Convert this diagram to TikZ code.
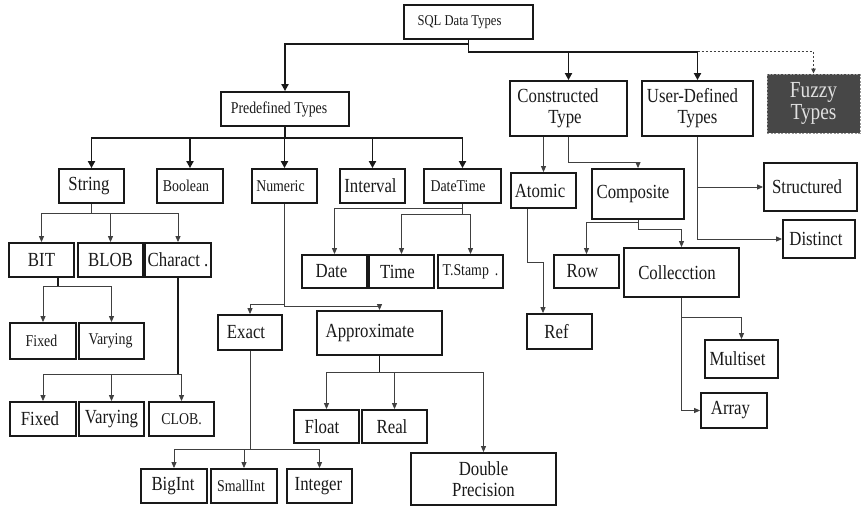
\documentclass[tikz,border=0pt]{standalone}
\usepackage{fontspec}
\setmainfont{Liberation Serif}[FakeStretch=0.84]
\usetikzlibrary{arrows.meta}
% trailing kern that nudges a label to the left inside its box
\newcommand\textpad[1]{\kern#1pt\relax}
\begin{document}
\begin{tikzpicture}[x=1pt,y=-1pt,
  box/.style={draw=black!90, line width=1.8pt, inner sep=0pt, align=center, text=black!90},
  wh/.style 2 args={minimum width=#1pt, minimum height=#2pt},
  bigtxt/.style={font=\fontsize{20}{21}\selectfont},
  smalltxt/.style={font=\fontsize{16.5}{18}\selectfont},
  sqltxt/.style={font=\fontsize{15}{16}\selectfont},
  fuzzybox/.style={fill=black!72, draw=black!40, dash pattern=on 2pt off 1.5pt,
    line width=1pt, inner sep=0pt, align=center, text=white!88!black,
    font=\fontsize{23}{22}\selectfont},
  trunk/.style={line width=1.8pt, draw=black!90, -{Triangle[length=7pt,width=7pt]}},
  stub/.style={line width=1.8pt, draw=black!90},
  twig/.style={line width=0.9pt, draw=black!75, -{Triangle[length=6pt,width=5pt]}},
  dashedlink/.style={line width=0.9pt, draw=black!75, dash pattern=on 2.5pt off 1.5pt,
    -{Triangle[length=5pt,width=4.5pt]}},
]
\useasboundingbox (0,0) rectangle (861,506);

% --- top levels
\node[box,wh={129}{34},sqltxt] (sql) at (468.5,22) {SQL Data Types\textpad{18}};
\node[box,wh={128}{34},smalltxt] (pre) at (285,109) {Predefined Types\textpad{12}};
\node[box,wh={117}{55},bigtxt] (con) at (568.5,108.5) {Constructed\textpad{21}\\Type\textpad{7}};
\node[box,wh={111}{55},bigtxt] (usr) at (697.5,108.5) {User-Defined\textpad{10}\\Types};
\node[fuzzybox,wh={93}{59}] (fuz) at (813.5,103.5) {Fuzzy\\Types};

% --- predefined types
\node[box,wh={65}{34},bigtxt] (str) at (91.5,186) {String\textpad{5}};
\node[box,wh={66}{34},smalltxt] (boo) at (190,186) {Boolean\textpad{8}};
\node[box,wh={65}{34},smalltxt] (num) at (284.5,186) {Numeric\textpad{8}};
\node[box,wh={65}{34},bigtxt] (itv) at (372.5,186) {Interval\textpad{4}};
\node[box,wh={77}{34},smalltxt] (dtm) at (462.5,186) {DateTime\textpad{9}};

% --- constructed and user-defined types
\node[box,wh={65}{35},bigtxt] (ato) at (543.5,190.5) {Atomic\textpad{7}};
\node[box,wh={92}{50},bigtxt] (cmp) at (638,194) {Composite\textpad{10}};
\node[box,wh={93}{48},bigtxt] (stc) at (810.5,187) {Structured\textpad{7}};
\node[box,wh={72}{38},bigtxt] (dis) at (819,239) {Distinct\textpad{6}};

% --- string family
\node[box,wh={65}{34},bigtxt] (bit) at (41.5,260) {BIT};
\node[box,wh={65}{34},bigtxt] (blob) at (110.5,260) {BLOB};
\node[box,wh={66}{34},bigtxt] (chr) at (178,260) {Charact .};
\node[box,wh={66}{36},smalltxt] (fx1) at (43,341) {Fixed\textpad{3}};
\node[box,wh={65}{36},smalltxt] (vr1) at (111.5,341) {Varying\textpad{2}};
\node[box,wh={66}{34},bigtxt] (fx2) at (43,419) {Fixed\textpad{6}};
\node[box,wh={65}{34},bigtxt] (vr2) at (111.5,419) {Varying};
\node[box,wh={65}{34},smalltxt] (clob) at (181.5,419) {CLOB.};

% --- date and time
\node[box,wh={65}{33},bigtxt] (dat) at (334.5,271.5) {Date\textpad{6}};
\node[box,wh={65}{33},bigtxt] (tim) at (401.5,271.5) {Time\textpad{8}};
\node[box,wh={65}{33},smalltxt] (tst) at (470.5,271.5) {T.Stamp\hspace{6pt}.};

% --- composite parts
\node[box,wh={65}{33},bigtxt] (row) at (586.5,271.5) {Row\textpad{8}};
\node[box,wh={115}{49},bigtxt] (col) at (681.5,272.5) {Collecction\textpad{9}};
\node[box,wh={65}{35},bigtxt] (ref) at (559.5,331.5) {Ref\textpad{6}};
\node[box,wh={73}{38},bigtxt] (mul) at (741.5,359) {Multiset\textpad{8}};
\node[box,wh={66}{35},bigtxt] (arr) at (734,410.5) {Array\textpad{7}};

% --- numeric family
\node[box,wh={64}{35},bigtxt] (ext) at (250,332.5) {Exact\textpad{8}};
\node[box,wh={125}{44},bigtxt] (apx) at (379.5,333) {Approximate\textpad{19}};
\node[box,wh={65}{33},bigtxt] (flt) at (326.5,426.5) {Float\textpad{9}};
\node[box,wh={65}{33},bigtxt] (rea) at (394.5,426.5) {Real\textpad{5}};
\node[box,wh={145}{52},bigtxt] (dbl) at (483.5,479) {Double\\Precision};
\node[box,wh={66}{34},bigtxt] (big) at (174,486) {BigInt\textpad{2}};
\node[box,wh={66}{34},smalltxt] (sml) at (244,486) {SmallInt\textpad{6}};
\node[box,wh={65}{34},bigtxt] (int) at (319.5,486) {Integer\textpad{2}};

% --- connectors from the root
\path (sql.south) ++(0,12) coordinate (rbus);
\draw[trunk] (sql.south) -- ++(0,4) -| (pre.north);
\draw[trunk] (sql.south) -- (rbus) -| (con.north);
\draw[trunk] (sql.south) -- (rbus) -| (usr.north);
\draw[dashedlink] (rbus -| usr.north) -| (fuz.north);

% --- predefined types
\foreach \c in {str,boo,num,itv,dtm}
  \draw[trunk] (pre.south) -- ++(0,11) -| (\c.north);

% --- string family
\foreach \c in {bit,blob,chr}
  \draw[twig] (str.south) -- ++(0,10) -| (\c.north);
\draw[stub] ([xshift=16.5pt]bit.south) -- ++(0,9);
\foreach \c in {fx1,vr1}
  \draw[twig] ([xshift=16.5pt]bit.south) ++(0,9) -| (\c.north);
\draw[stub] (chr.south) -- ++(0,97);
\foreach \c in {fx2,vr2,clob}
  \draw[twig] (chr.south) ++(0,97) -| (\c.north);

% --- numeric family
\draw[twig] (num.south) -- ++(0,101) -| (ext.north);
\draw[twig] (num.south) -- ++(0,103) -| (apx.north);
\draw[stub] (apx.south) -- ++(0,17);
\foreach \c in {flt,rea,dbl}
  \draw[twig] (apx.south) ++(0,17) -| (\c.north);
\foreach \c in {big,sml,int}
  \draw[twig] (ext.south) -- ++(0,99) -| (\c.north);

% --- date and time
\draw[twig] (dtm.south) -- ++(0,5) -| (dat.north);
\draw[twig] (dtm.south) -- ++(0,11) -| (tim.north);
\draw[twig] (dtm.south) -- ++(0,11) -| (tst.north);

% --- constructed types
\draw[twig] (con.south -| ato.north) -- (ato.north);
\draw[twig] (con.south) -- ++(0,26) -| (cmp.north);
\draw[twig] ([xshift=-16.5pt]ato.south) -- ++(0,54) -| ([xshift=-16.5pt]ref.north);
\draw[twig] (cmp.south) -- ++(0,3) -| (row.north);
\draw[twig] (cmp.south) -- ++(0,10) -| (col.north);
\draw[twig] (col.south) -- ++(0,20) -| (mul.north);
\draw[twig] (col.south) |- (arr.west);

% --- user-defined types
\draw[twig] (usr.south) |- (stc.west);
\draw[twig] (usr.south) |- (dis.west);
\end{tikzpicture}
\end{document}
